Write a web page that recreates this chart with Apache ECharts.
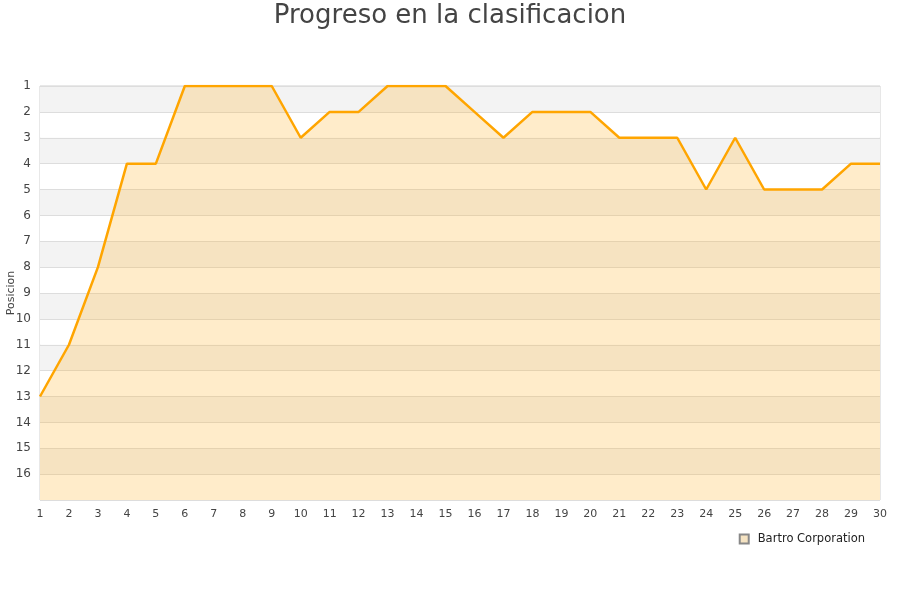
<!DOCTYPE html>
<html><head><meta charset="utf-8">
<script src="https://cdn.jsdelivr.net/npm/echarts@6/dist/echarts.min.js"></script>
<style>html,body{margin:0;padding:0;background:#fff}#c{width:900px;height:600px}</style>
</head><body><div id="c"></div>
<script>
const jornadas = [1,2,3,4,5,6,7,8,9,10,11,12,13,14,15,16,17,18,19,20,21,22,23,24,25,26,27,28,29,30];
const posiciones = [13,11,8,4,4,1,1,1,1,3,2,2,1,1,1,2,3,2,2,2,3,3,3,5,3,5,5,5,4,4];
const seriesName = 'Bartro Corporation';
const chart = echarts.init(document.getElementById('c'));
chart.setOption({
  animation:false,
  title:{text:'Progreso en la clasificacion',left:'center',top:-2,textStyle:{fontFamily:'DejaVu Sans',fontSize:26,fontWeight:'normal',color:'#444'}},
  legend:{data:[{name:seriesName,icon:'rect'}],right:30,top:528,itemWidth:9,itemHeight:9,itemGap:10,
    textStyle:{fontFamily:'DejaVu Sans',fontSize:11.5,color:'#222',padding:[0,0,0,4]}},
  grid:{left:40,right:20,top:86,bottom:100,containLabel:false,outerBoundsMode:'none',show:true,borderColor:'#d0d0d0',borderWidth:1,backgroundColor:'transparent'},
  xAxis:{type:'category',data:jornadas,boundaryGap:false,
    axisLine:{show:false},axisTick:{show:false},
    axisLabel:{fontFamily:'DejaVu Sans',fontSize:11,color:'#444',margin:9,interval:0},
    splitLine:{show:false}},
  yAxis:{type:'value',inverse:true,min:1,max:17,interval:1,name:'Posicion',nameLocation:'middle',nameGap:23,nameMoveOverlap:false,
    nameTextStyle:{fontFamily:'DejaVu Sans',fontSize:11,color:'#444'},
    axisLine:{show:false},axisTick:{show:false},
    axisLabel:{fontFamily:'DejaVu Sans',fontSize:12,color:'#444',margin:9,formatter:v=>v===17?'':String(v)},
    splitLine:{show:true,lineStyle:{color:'#dddddd',width:1}},
    splitArea:{show:true,areaStyle:{color:['#f3f3f3','#ffffff']}}},
  series:[{name:seriesName,type:'line',data:posiciones,symbol:'none',
    lineStyle:{color:'#ffa500',width:2.5},
    itemStyle:{color:'#f5e3c2',borderColor:'#888',borderWidth:1},
    areaStyle:{color:'rgba(255,179,43,0.25)',opacity:1,origin:'end'}}]
});
</script></body></html>
